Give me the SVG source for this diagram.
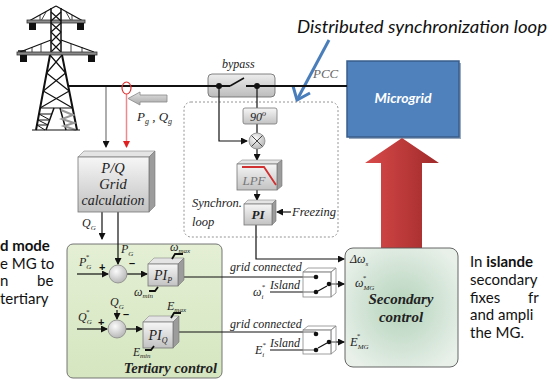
<svg xmlns="http://www.w3.org/2000/svg" width="552" height="380" viewBox="0 0 552 380">
<defs>
  <linearGradient id="gBox" x1="0" y1="0" x2="0" y2="1">
    <stop offset="0" stop-color="#f6f6f6"/><stop offset="1" stop-color="#c2c2c2"/>
  </linearGradient>
  <linearGradient id="gByp" x1="0" y1="0" x2="0" y2="1">
    <stop offset="0" stop-color="#ededed"/><stop offset="1" stop-color="#bcbcbc"/>
  </linearGradient>
  <radialGradient id="gSum" cx="0.4" cy="0.35" r="0.7">
    <stop offset="0" stop-color="#fbfbfb"/><stop offset="1" stop-color="#b3b3b3"/>
  </radialGradient>
  <linearGradient id="gTert" x1="0" y1="0" x2="0" y2="1">
    <stop offset="0" stop-color="#e4efd4"/><stop offset="1" stop-color="#d5e6c0"/>
  </linearGradient>
  <radialGradient id="gSec" cx="0.5" cy="0.5" r="0.6">
    <stop offset="0" stop-color="#b4d3bb"/><stop offset="1" stop-color="#e8f0e9"/>
  </radialGradient>
  <linearGradient id="gRed" x1="0" y1="0" x2="1" y2="0">
    <stop offset="0" stop-color="#d94a4a"/><stop offset="1" stop-color="#a02a2a"/>
  </linearGradient>
  <linearGradient id="gArrow" x1="0" y1="0" x2="0" y2="1">
    <stop offset="0" stop-color="#e2e2e2"/><stop offset="1" stop-color="#a8a8a8"/>
  </linearGradient>
  <marker id="ah" markerUnits="userSpaceOnUse" markerWidth="7" markerHeight="7" refX="6" refY="3.5" orient="auto">
    <path d="M0,0 L7,3.5 L0,7 z" fill="#111"/>
  </marker>
  <marker id="ahr" markerUnits="userSpaceOnUse" markerWidth="7" markerHeight="7" refX="6" refY="3.5" orient="auto">
    <path d="M0,0 L7,3.5 L0,7 z" fill="#e02020"/>
  </marker>
</defs>
<style>
  .t { font-family: "Liberation Serif", serif; font-style: italic; fill: #222; }
  .tb { font-family: "Liberation Serif", serif; font-style: italic; font-weight: bold; fill: #222; }
  .s { font-family: Lato, "Liberation Sans", sans-serif; font-size: 15px; fill: #111; }
  .w { fill: none; stroke: #111; stroke-width: 1.2; }
  .front { fill: url(#gBox); stroke: #777; stroke-width: 0.8; }
  .top { fill: #e4e4e4; stroke: #888; stroke-width: 0.6; }
  .side { fill: #9c9c9c; stroke: #777; stroke-width: 0.6; }
  .sum { fill: url(#gSum); stroke: #888; stroke-width: 0.8; }
  .sw { fill: #ffffff; fill-opacity: 0.35; stroke: #888; stroke-width: 0.8; }
  .dot { fill: #111; }
  .lim { fill: none; stroke: #111; stroke-width: 1.8; }
  .op { font-family: "Liberation Sans", sans-serif; font-weight: bold; font-size: 11px; fill: #111; }
</style>

<rect width="552" height="380" fill="#ffffff"/>

<!-- transmission tower -->
<g id="tower" fill="none" stroke="#111" stroke-width="1.2">
  <path d="M56,6 L29,21 M56,6 L83,21"/>
  <path d="M40,15 V21 M72,15 V21 M46,12 L41,21 M66,12 L71,21" stroke-width="0.8"/>
  <rect x="27" y="20" width="58" height="3" fill="#8a8a8a" stroke="#333" stroke-width="0.8"/>
  <rect x="29" y="23" width="7" height="7" fill="#111" stroke="none"/>
  <rect x="77" y="23" width="7" height="7" fill="#111" stroke="none"/>
  <path d="M51,8 V53 M61,8 V53" stroke-width="1.5"/>
  <path d="M51,12 L61,21 M61,12 L51,21 M51,23 L61,32 M61,23 L51,32 M51,32 L61,42 M61,32 L51,42 M51,42 L61,52 M61,42 L51,52"/>
  <path d="M51,40 L20,52 M61,40 L94,52"/>
  <path d="M32,47 V52 M41,44 V52 M71,44 V52 M82,47 V52" stroke-width="0.8"/>
  <rect x="17" y="52" width="80" height="3" fill="#8a8a8a" stroke="#333" stroke-width="0.8"/>
  <path d="M18,51 H26" stroke-width="1.5"/>
  <rect x="20" y="55" width="7" height="7" fill="#111" stroke="none"/>
  <rect x="88" y="55" width="7" height="7" fill="#111" stroke="none"/>
  <path d="M50,55 L36,130 M62,55 L77,130" stroke-width="2"/>
  <path d="M50,55 L65.6,73 M62,55 L46.6,73 M46.6,73 L69.2,91 M65.6,73 L43.3,91 M43.3,91 L72.6,108 M69.2,91 L40.1,108"/>
  <path d="M40,108 H73"/>
  <path d="M54,108 L46,130 M60,108 L66,130" stroke-width="1.5"/>
  <path d="M39,114 H52 M38,120 H50 M37,125 H48 M39,114 L50,120 M38,120 L48,125 M37,125 L45,130" stroke-width="1"/>
  <path d="M61,110 L73,115 L62,119 L74,123 L64,126 L76,130" stroke="#999" stroke-width="2"/>
  <path d="M32,130 H80" stroke-width="1.2"/>
</g>

<!-- headline and blue pointer -->
<g id="title">
  <text x="297" y="33" font-family="Lato, 'Liberation Sans', sans-serif" font-style="italic" font-size="17" fill="#111" textLength="250" lengthAdjust="spacingAndGlyphs">Distributed synchronization loop</text>
  <path d="M329,40 L298,98" stroke="#4a7ebb" stroke-width="3" fill="none"/>
  <path d="M293,86 L297,100 L310,93" stroke="#4a7ebb" stroke-width="3" fill="none"/>
</g>

<!-- microgrid block -->
<g id="microgrid">
  <rect x="349" y="63" width="112" height="76" fill="#9aa9bd"/>
  <rect x="347" y="61" width="112" height="76" fill="#4f81bd" stroke="#385d8a" stroke-width="1.5"/>
  <text x="403" y="103" text-anchor="middle" font-family="Lato, 'Liberation Sans', sans-serif" font-weight="bold" font-style="italic" font-size="14" fill="#ffffff">Microgrid</text>
</g>

<!-- red interface arrow -->
<g id="red-arrow">
  <path d="M402,138 L439,163 L422,163 L422,248 L381,248 L381,163 L365,163 Z" fill="url(#gRed)"/>
</g>

<!-- containers -->
<g id="sync-loop">
  <rect x="184" y="102" width="154" height="135" rx="7" fill="none" stroke="#888" stroke-width="0.9" stroke-dasharray="2,2"/>
  <text class="t" x="192" y="207" font-size="12.5">Synchron.</text>
  <text class="t" x="192" y="226" font-size="12.5">loop</text>
  <text class="t" x="292" y="216" font-size="12.5">Freezing</text>
</g>
<g id="tertiary">
  <rect x="67" y="244" width="155" height="134" rx="6" fill="url(#gTert)" stroke="#666" stroke-width="0.9"/>
  <text class="tb" x="217" y="373" text-anchor="end" font-size="14.5">Tertiary control</text>
</g>
<g id="secondary">
  <rect x="345" y="248" width="113" height="119" rx="8" fill="url(#gSec)" stroke="#555" stroke-width="0.9"/>
  <text class="t" x="350" y="263" font-size="12">Δω<tspan font-size="7" dy="3">s</tspan></text>
  <text class="t" x="355" y="287" font-size="12">ω<tspan font-size="7" dy="3">MG</tspan><tspan font-size="7" dx="-12" dy="-10">*</tspan></text>
  <text class="tb" x="401" y="304" text-anchor="middle" font-size="15">Secondary</text>
  <text class="tb" x="401" y="322" text-anchor="middle" font-size="15">control</text>
  <text class="t" x="350" y="346" font-size="12.5">E<tspan font-size="7" dy="3">MG</tspan><tspan font-size="7" dx="-12" dy="-11">*</tspan></text>
</g>

<!-- bypass switch -->
<g id="bypass">
  <rect x="208" y="74" width="67" height="23" rx="4" fill="url(#gByp)" stroke="#666" stroke-width="0.8"/>
  <text class="t" x="222" y="68" font-size="12">bypass</text>
  <text class="t" x="313" y="78" font-size="13" style="fill:#666">PCC</text>
</g>

<g id="connectors">
  <!-- power line -->
  <path d="M68,86 H230 M246,86 H347" stroke="#111" stroke-width="2.2" fill="none"/>
  <path d="M230,86 L244,78" stroke="#111" stroke-width="1.6" fill="none"/>
  <circle class="dot" cx="219" cy="86" r="3"/>
  <circle class="dot" cx="257" cy="86" r="3"/>
  <!-- grid measurements -->
  <path d="M106,87 V147" stroke="#777" stroke-width="1.2" fill="none" marker-end="url(#ah)"/>
  <path d="M126.5,94 V147" stroke="#f08a8a" stroke-width="1.5" fill="none" marker-end="url(#ahr)"/>
  <ellipse cx="126.5" cy="88" rx="4.5" ry="6" fill="none" stroke="#e03030" stroke-width="1.2"/>
  <!-- synchronization loop signals -->
  <path class="w" d="M219,86 V141 H247" marker-end="url(#ah)"/>
  <path class="w" d="M257,86 V108"/>
  <path class="w" d="M257,124 V133"/>
  <path class="w" d="M257,149 V160" marker-end="url(#ah)"/>
  <path class="w" d="M257,190 V200" marker-end="url(#ah)"/>
  <path class="w" d="M291,212 H277" marker-end="url(#ah)"/>
  <path class="w" d="M256,225 V259 H344" marker-end="url(#ah)"/>
  <!-- P/Q outputs -->
  <path class="w" d="M102,212 V239" marker-end="url(#ah)"/>
  <path class="w" d="M118,212 V264" marker-end="url(#ah)"/>
  <path class="w" d="M77,274 H108" marker-end="url(#ah)"/>
  <path class="w" d="M127,274 H147" marker-end="url(#ah)"/>
  <path class="w" d="M117,310 V319" marker-end="url(#ah)"/>
  <path class="w" d="M77,329 H107" marker-end="url(#ah)"/>
  <path class="w" d="M126,329 H142" marker-end="url(#ah)"/>
  <!-- tertiary outputs to selectors -->
  <path class="w" d="M184,277 H316"/>
  <path class="w" d="M179,332 H316"/>
  <path class="w" d="M270,292 H316"/>
  <path class="w" d="M270,350 H316"/>
  <path class="w" d="M329,284 H344" marker-end="url(#ah)"/>
  <path class="w" d="M329,342 H344" marker-end="url(#ah)"/>
</g>

<!-- grid power flow arrow -->
<g id="pq-arrow">
  <path d="M128,98.5 L140,92 L140,95 L167,95 L167,102 L140,102 L140,105 Z" fill="url(#gArrow)" stroke="#888" stroke-width="0.8"/>
  <text class="t" x="137" y="121" font-size="13">P<tspan font-size="8" dy="3">g</tspan><tspan dy="-3"> , Q</tspan><tspan font-size="8" dy="3">g</tspan></text>
</g>

<g id="shift90">
  <rect x="243" y="108" width="34" height="16" rx="2" fill="url(#gBox)" stroke="#777" stroke-width="0.8"/>
  <text class="t" x="258" y="121" text-anchor="middle" font-size="12">90<tspan font-size="8" dy="-5">o</tspan></text>
</g>

<g id="multiplier">
  <circle cx="257" cy="141" r="8" class="sum"/>
  <path d="M251.5,135.5 L262.5,146.5 M262.5,135.5 L251.5,146.5" stroke="#333" stroke-width="0.9"/>
</g>

<g id="lpf">
  <polygon class="top" points="237,164 242,160 282,160 277,164"/>
  <polygon class="side" points="277,164 282,160 282,186 277,190"/>
  <rect class="front" x="237" y="164" width="40" height="26"/>
  <path d="M242,167 H264 L276,185" stroke="#d03030" stroke-width="1.8" fill="none"/>
  <text class="t" x="254" y="185" text-anchor="middle" font-size="13" style="fill:#777">LPF</text>
</g>

<g id="pi-sync">
  <polygon class="top" points="244,204 248,200 276,200 272,204"/>
  <polygon class="side" points="272,204 276,200 276,221 272,225"/>
  <rect class="front" x="244" y="204" width="28" height="21"/>
  <text class="tb" x="258" y="219" text-anchor="middle" font-size="13">PI</text>
</g>

<!-- P/Q grid calculation -->
<g id="pq-calc">
  <polygon class="top" points="78,157 84,151 155,151 149,157"/>
  <polygon class="side" points="149,157 155,151 155,206 149,212"/>
  <rect class="front" x="78" y="157" width="71" height="55"/>
  <text class="t" x="113" y="173" text-anchor="middle" font-size="14.5">P/Q</text>
  <text class="t" x="113" y="189" text-anchor="middle" font-size="14.5">Grid</text>
  <text class="t" x="113" y="205" text-anchor="middle" font-size="14">calculation</text>
  <text class="t" x="82" y="227" font-size="12">Q<tspan font-size="7" dy="3">G</tspan></text>
</g>

<!-- active power loop -->
<g id="sum-p">
  <circle cx="118" cy="274" r="9" class="sum"/>
  <text class="t" x="79" y="266" font-size="12">P<tspan font-size="7" dy="3">G</tspan><tspan font-size="7" dx="-6" dy="-10">*</tspan></text>
  <text class="op" x="99" y="271">+</text>
  <text class="t" x="121" y="253" font-size="12">P<tspan font-size="7" dy="3">G</tspan></text>
  <text class="op" x="129" y="267">–</text>
</g>
<g id="pi-p">
  <polygon class="top" points="148,264 154,258 184,258 178,264"/>
  <polygon class="side" points="178,264 184,258 184,280 178,286"/>
  <rect class="front" x="148" y="264" width="30" height="22"/>
  <text class="t" x="163" y="280" text-anchor="middle" font-size="14">PI<tspan font-size="8" dy="3">P</tspan></text>
  <polyline class="lim" points="172,259 175,254 183,254"/>
  <text class="t" x="170" y="251" font-size="12">ω<tspan font-size="7" dy="2">max</tspan></text>
  <polyline class="lim" points="149,291 155,291 158,287"/>
  <text class="t" x="134" y="296" font-size="12">ω<tspan font-size="7" dy="2">min</tspan></text>
</g>

<!-- reactive power loop -->
<g id="sum-q">
  <circle cx="117" cy="329" r="9" class="sum"/>
  <text class="t" x="78" y="321" font-size="12">Q<tspan font-size="7" dy="3">G</tspan><tspan font-size="7" dx="-6" dy="-10">*</tspan></text>
  <text class="op" x="98" y="326">+</text>
  <text class="t" x="110" y="306" font-size="12">Q<tspan font-size="7" dy="3">G</tspan></text>
  <text class="op" x="123" y="318">–</text>
</g>
<g id="pi-q">
  <polygon class="top" points="143,322 149,316 179,316 173,322"/>
  <polygon class="side" points="173,322 179,316 179,342 173,348"/>
  <rect class="front" x="143" y="322" width="30" height="26"/>
  <text class="t" x="158" y="340" text-anchor="middle" font-size="14">PI<tspan font-size="8" dy="3">Q</tspan></text>
  <polyline class="lim" points="171,318 174,313 181,313"/>
  <text class="t" x="167" y="310" font-size="12">E<tspan font-size="7" dy="2">max</tspan></text>
  <polyline class="lim" points="145,350 151,350 154,346"/>
  <text class="t" x="133" y="356" font-size="11.5">E<tspan font-size="7" dy="2">min</tspan></text>
</g>

<!-- mode selectors -->
<g id="selector-w">
  <polygon class="sw" points="303,272 308,268 336,268 331,272"/>
  <polygon class="sw" points="331,272 336,268 336,293 331,297"/>
  <rect class="sw" x="303" y="272" width="28" height="25"/>
  <circle class="dot" cx="316" cy="277" r="2.3"/>
  <circle class="dot" cx="316" cy="292" r="2.3"/>
  <circle class="dot" cx="329" cy="284" r="2.3"/>
  <path class="w" d="M318,291 L327,286"/>
  <text class="t" x="230" y="271" font-size="12">grid connected</text>
  <text class="t" x="270" y="289" font-size="12">Island</text>
  <text class="t" x="253" y="296" font-size="12">ω<tspan font-size="7" dy="3">i</tspan><tspan font-size="7" dx="-2" dy="-10">*</tspan></text>
</g>

<g id="selector-e">
  <polygon class="sw" points="303,330 308,326 336,326 331,330"/>
  <polygon class="sw" points="331,330 336,326 336,350 331,354"/>
  <rect class="sw" x="303" y="330" width="28" height="24"/>
  <circle class="dot" cx="316" cy="334" r="2.3"/>
  <circle class="dot" cx="316" cy="350" r="2.3"/>
  <circle class="dot" cx="329" cy="342" r="2.3"/>
  <path class="w" d="M318,348 L327,343"/>
  <text class="t" x="230" y="328" font-size="12">grid connected</text>
  <text class="t" x="270" y="347" font-size="12">Island</text>
  <text class="t" x="255" y="354" font-size="12">E<tspan font-size="7" dy="3">i</tspan><tspan font-size="7" dx="-2" dy="-10">*</tspan></text>
</g>

<!-- side notes -->
<g id="note-left">
  <text class="s" x="0" y="251" font-weight="bold">d mode</text>
  <text class="s" x="0" y="269">e MG to</text>
  <text class="s" x="0" y="286">n</text>
  <text class="s" x="37" y="286">be</text>
  <text class="s" x="0" y="304">tertiary</text>
</g>
<g id="note-right">
  <text class="s" x="470" y="267">In <tspan font-weight="bold">islande</tspan></text>
  <text class="s" x="470" y="285">secondary</text>
  <text class="s" x="470" y="303">fixes</text>
  <text class="s" x="528" y="303">fr</text>
  <text class="s" x="470" y="320">and ampli</text>
  <text class="s" x="470" y="338">the MG.</text>
</g>
</svg>
